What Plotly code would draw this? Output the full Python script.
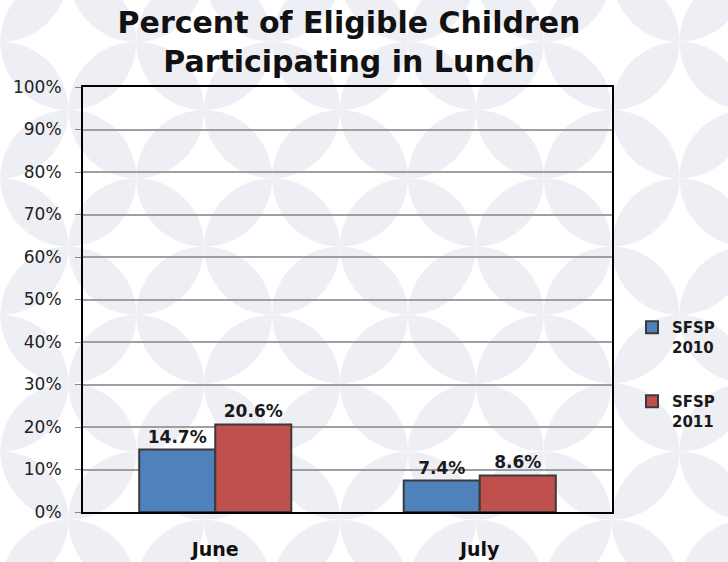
import plotly.graph_objects as go

months = ["June", "July"]
series_names = ["SFSP<br>2010", "SFSP<br>2011"]
values_2010 = [14.7, 7.4]
values_2011 = [20.6, 8.6]
y_tick_vals = [0, 10, 20, 30, 40, 50, 60, 70, 80, 90, 100]
y_tick_text = [f"{v}%" for v in y_tick_vals]

W, H = 728, 562
L, R, T, B = 83, 116, 87, 50
PW, PH = W - L - R, H - T - B

def px2paper(x, y):
    return (x - L) / PW, (H - B - y) / PH

# decorative background: overlapping-circle lens pattern
sx, sy = 67.9, 68.3
ox, oy = 340.0, 110.0
k = 0.5523
def pt(i, j):
    return (ox + sx * i, oy + sy * j)

def arc(A, Bp, C):
    p1 = (A[0] + k * (Bp[0] - C[0]), A[1] + k * (Bp[1] - C[1]))
    p2 = (Bp[0] + k * (A[0] - C[0]), Bp[1] + k * (A[1] - C[1]))
    return p1, p2, Bp

def fmt(p):
    x, y = px2paper(*p)
    return f"{x:.5f},{y:.5f}"

shapes = []
for i in range(-7, 9):
    for j in range(-3, 9):
        if (i + j) % 2 != 0:
            continue
        J1 = pt(i, j)
        for dj in (1, -1):
            J2 = pt(i + 1, j + dj)
            C1 = pt(i + 1, j)
            C2 = pt(i, j + dj)
            a1 = arc(J1, J2, C1)
            a2 = arc(J2, J1, C2)
            path = (f"M {fmt(J1)} C {fmt(a1[0])} {fmt(a1[1])} {fmt(a1[2])} "
                    f"C {fmt(a2[0])} {fmt(a2[1])} {fmt(a2[2])} Z")
            shapes.append(dict(type="path", path=path, xref="paper", yref="paper",
                               fillcolor="#eeeef5", line=dict(width=0), layer="below"))

fig = go.Figure()
fig.add_trace(go.Bar(
    x=months, y=values_2010, name=series_names[0], legendgroup="a",
    marker=dict(color="#4f81bd", line=dict(color="#3a3a3a", width=2)),
    text=[f"{v}%" for v in values_2010], textposition="outside",
    textfont=dict(family="DejaVu Sans", size=17, color="#1a1a1a", weight="bold"),
    cliponaxis=False,
))
fig.add_trace(go.Bar(
    x=months, y=values_2011, name=series_names[1], legendgroup="b",
    marker=dict(color="#c0504d", line=dict(color="#3a3a3a", width=2)),
    text=[f"{v}%" for v in values_2011], textposition="outside",
    textfont=dict(family="DejaVu Sans", size=17, color="#1a1a1a", weight="bold"),
    cliponaxis=False,
))

fig.update_layout(
    width=W, height=H,
    margin=dict(l=L, r=R, t=T, b=B, autoexpand=False),
    paper_bgcolor="white", plot_bgcolor="rgba(0,0,0,0)",
    title=dict(text="<b>Percent of Eligible Children<br>Participating in Lunch</b>",
               x=349 / W, xanchor="center", y=1 - 33 / H, yanchor="middle",
               font=dict(family="DejaVu Sans", size=30, color="#111111")),
    barmode="group", bargap=0.425, bargroupgap=0,
    showlegend=True,
    legend=dict(x=px2paper(632, 0)[0], xanchor="left", y=px2paper(0, 311)[1], yanchor="top",
                bgcolor="rgba(0,0,0,0)", traceorder="grouped", tracegroupgap=32,
                valign="top", itemwidth=30,
                font=dict(family="DejaVu Sans", size=15, color="#1a1a1a", weight="bold")),
    shapes=shapes,
    xaxis=dict(showline=True, linecolor="black", linewidth=2, mirror=True,
               ticks="outside", ticklen=19, tickcolor="rgba(0,0,0,0)", automargin=False,
               tickfont=dict(family="DejaVu Sans", size=19, color="#111111", weight="bold"),
               showgrid=False),
    yaxis=dict(range=[0, 100], tickvals=y_tick_vals, ticktext=y_tick_text,
               showline=True, linecolor="black", linewidth=2, mirror=True, automargin=False,
               ticks="outside", ticklen=6, tickcolor="#888888", ticklabelstandoff=10,
               tickfont=dict(family="DejaVu Sans", size=17, color="#222222"),
               showgrid=True, gridcolor="#a0a0a0", gridwidth=1.5, zeroline=False),
)

fig.write_html("out.html", config={"displayModeBar": False},
               post_script="document.body.style.margin='0';")
